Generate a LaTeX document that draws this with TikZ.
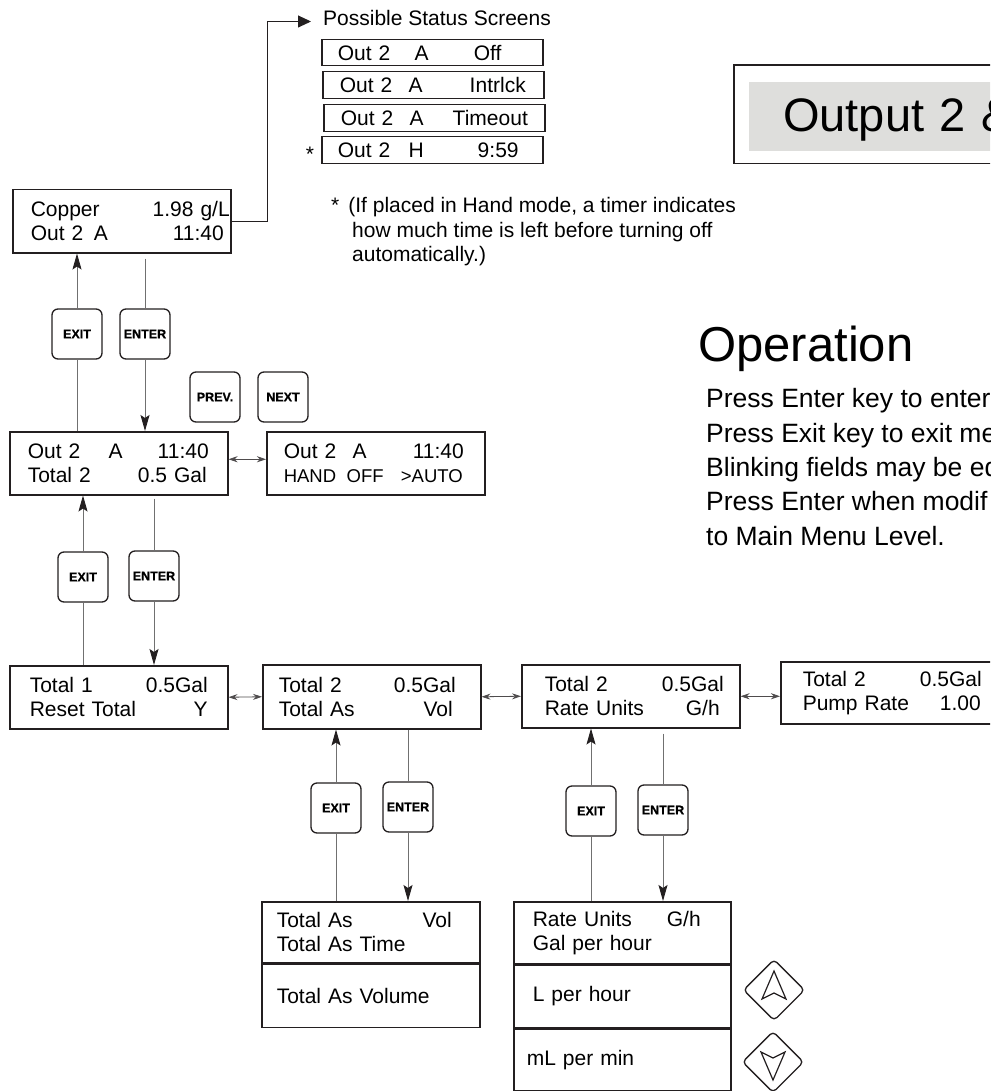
\documentclass[tikz,border=0pt]{standalone}
\usepackage{fontspec}
\setmainfont{Liberation Sans}
\newfontfamily\keyface{Liberation Sans Bold}[FakeBold=0.6]
\usetikzlibrary{arrows.meta,calc,positioning}

\definecolor{ink}{HTML}{231F20}
\definecolor{wire}{HTML}{707070}
\definecolor{titlegray}{HTML}{DEDEDC}

\newcommand{\lcdfont}{\fontsize{21}{24}\selectfont}
\newcommand{\keyfont}{\keyface\fontsize{12.5}{14}\selectfont}
\newcommand{\rpad}[1]{\hspace*{#1pt}\null}
\newcommand{\lrow}[4]{\hspace*{#1pt}#2\hfill #3\rpad{#4}}

\tikzset{
    x=1pt, y=-1pt,
    lcd/.style 2 args={draw=ink, line width=1.5pt, anchor=north west, inner xsep=0pt, inner ysep=0pt,
        text width=#1, minimum height=#2, align=left, font=\lcdfont},
    keybox/.style={draw=ink, line width=1.3pt, rounded corners=6pt, fill=white, inner sep=0pt,
        minimum width=50pt, minimum height=50pt, font=\keyfont},
    arrowkey/.style={draw=ink, line width=1.3pt, rounded corners=4pt, rotate=45, inner sep=0pt,
        minimum size=43pt},
    glyph/.style={draw=ink, line width=1.2pt, line join=miter},
    link/.style={draw=wire, line width=0.9pt},
    flow/.style={link, -{Stealth[length=16pt, width=9pt, inset=3pt, color=ink]}},
    sidestep/.style={draw=ink!80, line width=0.8pt, {Stealth[length=9pt, width=6pt]}-{Stealth[length=9pt, width=6pt]}},
    note/.style={font=\lcdfont, inner sep=0pt, anchor=base west, align=left},
}

\begin{document}
\begin{tikzpicture}
\useasboundingbox (0,0) rectangle (990,1091);
\clip (0,0) rectangle (990,1091);

    % title and operation notes
    \node (title) at (749,82) [anchor=north west, fill=titlegray, inner xsep=34pt, inner ysep=0pt,
        minimum height=69pt, text width=280pt, text height=34pt, text depth=5pt,
        font=\fontsize{47}{50}\selectfont] {Output 2 \&};
    \draw[ink, line width=1.5pt] ($(title.north west)+(-15,-17)$) rectangle ($(title.south east)+(15,12)$);
    \node (oper) at (698,361) [note, font=\fontsize{49}{52}\selectfont] {Operation};
    % multi-line notes sit on their last baseline
    \node (help) at (706,545) [note, font=\fontsize{26.5}{34.3}\selectfont] {Press Enter key to enter\\
        Press Exit key to exit me\\Blinking fields may be ed\\Press Enter when modif\\to Main Menu Level.};

    % status screens
    \node (pss) at (311,26) [note, inner xsep=12pt] {Possible Status Screens};
    \node (st1) at (321,39) [lcd={221pt}{26pt}] {\hspace*{16pt}\makebox[77pt][l]{Out 2}\makebox[59pt][l]{A}Off};
    \node (st2) at (322,71) [lcd={221pt}{27pt}] {\hspace*{17pt}\makebox[69pt][l]{Out 2}\makebox[61pt][l]{A}Intrlck};
    \node (st3) at (323,104) [lcd={221pt}{27pt}] {\hspace*{17pt}\makebox[69pt][l]{Out 2}\makebox[43pt][l]{A}Timeout};
    \node (st4) at (321,136) [lcd={221pt}{27pt}] {\hspace*{16pt}\makebox[71pt][l]{Out 2}\makebox[69pt][l]{H}9:59};
    \node (star) at (310,162) [font=\lcdfont, inner sep=0pt, anchor=base] {*};
    \node (foot) at (331,261) [note] {*\hspace*{9pt}(If placed in Hand mode, a timer indicates\\
        \hspace*{21pt}how much time is left before turning off\\\hspace*{21pt}automatically.)};

    % menu screens
    \node (copper) at (12,189) [lcd={218pt}{63pt}] {\lrow{18}{Copper}{1.98 g/L}{1}\\
        \hspace*{18pt}\makebox[63pt][l]{Out 2}A\hfill 11:40\rpad{7}};
    \node (out2) at (9,431) [lcd={218pt}{63pt}] {\hspace*{18pt}\makebox[81pt][l]{Out 2}A\hfill 11:40\rpad{19}\\
        \lrow{18}{Total 2}{0.5 Gal}{21}};
    \node (hand) at (266,431) [lcd={218pt}{63pt}] {\hspace*{17pt}\makebox[69pt][l]{Out 2}A\hfill 11:40\rpad{21}\\
        {\fontsize{18.5}{24}\selectfont\hspace*{17pt}\makebox[63pt][l]{HAND}OFF\hfill >AUTO\rpad{22}}};
    \node (total1) at (9,665) [lcd={218pt}{63pt}] {\lrow{20}{Total 1}{0.5Gal}{20}\\\lrow{20}{Reset Total}{Y}{20}};
    \node (total2) at (262,664) [lcd={218pt}{64pt}] {\lrow{16}{Total 2}{0.5Gal}{25}\\\lrow{16}{Total As}{Vol}{28}};
    \node (rate) at (521,664) [lcd={218pt}{63pt}] {\lrow{23}{Total 2}{0.5Gal}{16}\\\lrow{23}{Rate Units}{G/h}{20}};
    \node (pump) at (780,661) [lcd={218pt}{62pt}] {\lrow{22}{Total 2}{0.5Gal}{17}\\\lrow{22}{Pump Rate}{1.00}{18}};

    % selection lists
    \node (tastop) at (261,901) [lcd={218pt}{61pt}] {\lrow{15}{Total As}{Vol}{28}\\\hspace*{15pt}Total As Time};
    \node (tasbot) [lcd={218pt}{63pt}, below=0pt of tastop] {\hspace*{15pt}Total As Volume};
    \node (ratetop) at (513,901) [lcd={217pt}{62pt}] {\lrow{19}{Rate Units}{G/h}{30}\\\hspace*{19pt}Gal per hour};
    \node (ratemid) [lcd={217pt}{62pt}, below=0pt of ratetop] {\hspace*{19pt}L per hour};
    \node (ratebot) [lcd={217pt}{62pt}, below=0pt of ratemid] {\hspace*{13pt}mL per min};

    % keys
    \node (exitA) at (77,334) [keybox] {EXIT};
    \node (enterA) at (145,334) [keybox] {ENTER};
    \node (prev) at (215,397) [keybox] {PREV.};
    \node (next) at (283,397) [keybox] {NEXT};
    \node (exitB) at (83,577) [keybox] {EXIT};
    \node (enterB) at (154,576) [keybox] {ENTER};
    \node (exitC) at (336,808) [keybox] {EXIT};
    \node (enterC) at (408,807) [keybox] {ENTER};
    \node (exitD) at (591,811) [keybox] {EXIT};
    \node (enterD) at (663,810) [keybox] {ENTER};
    \node (up) at (774,990) [arrowkey] {};
    \node (down) at (773,1062) [arrowkey] {};
    \draw[glyph] ($(up)+(0,-19)$) -- ($(up)+(12,9)$) -- ($(up)+(0,3)$) -- ($(up)+(-12,9)$) -- cycle;
    \draw[glyph] ($(down)+(0,18)$) -- ($(down)+(12,-10)$) -- ($(down)+(0,-4)$) -- ($(down)+(-12,-10)$) -- cycle;

    % exit / enter links
    \draw[link] (out2.north -| exitA) -- (exitA.south);
    \draw[flow] (exitA.north) -- (copper.south -| exitA);
    \draw[link, shorten <=5pt] (copper.south -| enterA) -- (enterA.north);
    \draw[flow] (enterA.south) -- (out2.north -| enterA);
    \draw[link] (total1.north -| exitB) -- (exitB.south);
    \draw[flow] (exitB.north) -- (out2.south -| exitB);
    \draw[link, shorten <=3pt] (out2.south -| enterB) -- (enterB.north);
    \draw[flow] (enterB.south) -- (total1.north -| enterB);
    \draw[link] (tastop.north -| exitC) -- (exitC.south);
    \draw[flow] (exitC.north) -- (total2.south -| exitC);
    \draw[link] (total2.south -| enterC) -- (enterC.north);
    \draw[flow] (enterC.south) -- (tastop.north -| enterC);
    \draw[link] (ratetop.north -| exitD) -- (exitD.south);
    \draw[flow] (exitD.north) -- (rate.south -| exitD);
    \draw[link, shorten <=5pt] (rate.south -| enterD) -- (enterD.north);
    \draw[flow] (enterD.south) -- (ratetop.north -| enterD);

    % next / prev links
    \draw[sidestep] ([yshift=4pt]out2.east) -- ([yshift=4pt]hand.west);
    \draw[sidestep] (total1.east) -- (total2.west);
    \draw[sidestep] (total2.east) -- (rate.west);
    \draw[sidestep] (rate.east) -- (rate.east -| pump.west);

    % status link
    \draw[ink, line width=0.9pt, -{Triangle[length=13pt, width=12pt]}] (copper.east) -- ++(36,0) |- ([yshift=-3pt]pss.west);

\end{tikzpicture}
\end{document}
